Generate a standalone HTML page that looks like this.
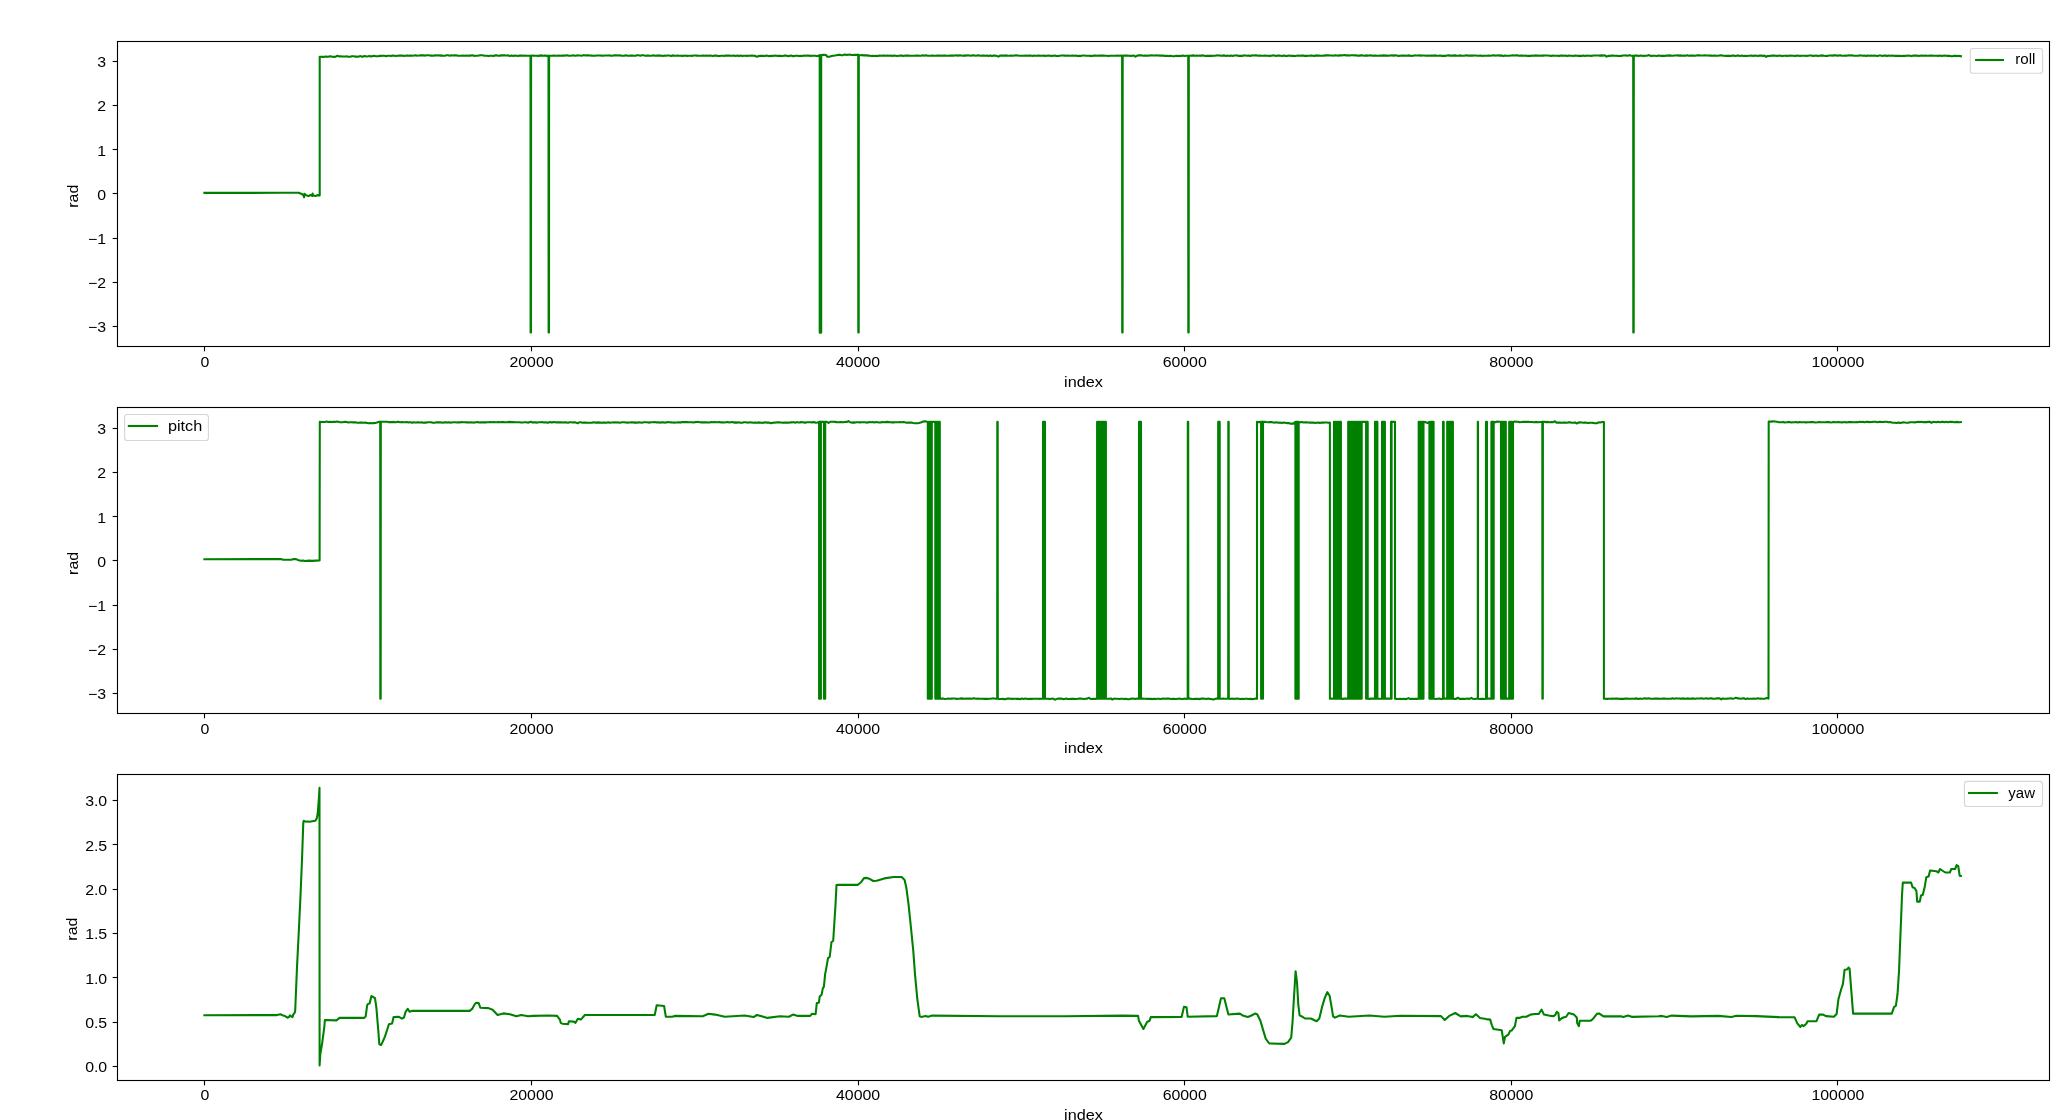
<!DOCTYPE html>
<html><head><meta charset="utf-8"><title>roll pitch yaw</title>
<style>
html,body{margin:0;padding:0;background:#fff;}
body{width:2071px;height:1120px;overflow:hidden;}
svg{display:block;}
.t{font-family:"Liberation Sans",sans-serif;font-size:13.89px;fill:#000;}
</style></head><body>
<svg width="2071" height="1120" viewBox="0 0 2071 1120">
<rect width="2071" height="1120" fill="#fff"/>
<clipPath id="c0"><rect x="117.50" y="41.50" width="1932.00" height="305.00"/></clipPath>
<clipPath id="c1"><rect x="117.50" y="407.50" width="1932.00" height="306.00"/></clipPath>
<clipPath id="c2"><rect x="117.50" y="774.50" width="1932.00" height="306.00"/></clipPath>
<g clip-path="url(#c0)" fill="none" stroke="#008000" stroke-width="2.08" stroke-linejoin="round" stroke-linecap="square">
<path d="M204.4 192.9 L240.0 192.9 L280.0 192.8 L298.8 192.8 L303.2 194.7 L304.1 197.3 L304.5 193.8 L306.6 195.5 L308.5 196.1 L310.5 195.0 L312.2 195.9 L312.6 193.6 L313.2 195.6 L315.5 196.0 L317.5 195.1 L319.7 195.4 L319.7 56.7 L321.3 56.7 L322.9 56.9 L324.5 56.7 L326.1 56.5 L327.8 56.7 L329.4 56.4 L331.0 56.4 L332.6 56.7 L334.2 56.9 L335.8 56.7 L337.4 55.7 L339.0 56.4 L340.6 56.2 L342.2 56.5 L343.9 56.5 L345.5 56.5 L347.1 56.4 L348.7 56.8 L350.3 56.7 L351.9 56.3 L353.5 56.3 L355.1 56.6 L356.7 56.6 L358.3 56.7 L359.9 56.1 L361.6 56.6 L363.2 56.6 L364.8 56.1 L366.4 56.5 L368.0 56.3 L369.6 56.0 L371.3 56.5 L372.9 56.0 L374.6 55.9 L376.2 56.3 L377.9 56.2 L379.5 55.9 L381.1 55.9 L382.8 55.8 L384.4 55.8 L386.1 56.3 L387.7 55.8 L389.4 55.8 L391.0 56.1 L392.6 55.6 L394.3 55.7 L395.9 56.0 L397.6 55.7 L399.2 55.5 L400.9 55.6 L402.5 55.6 L404.1 55.9 L405.8 55.7 L407.4 55.4 L409.1 55.8 L410.7 55.4 L412.4 55.7 L414.0 55.5 L415.6 55.3 L417.2 55.7 L418.9 55.5 L420.5 55.2 L422.1 55.4 L423.7 55.4 L425.4 55.6 L427.0 55.3 L428.6 55.3 L430.2 55.6 L431.8 55.6 L433.5 55.8 L435.1 55.2 L436.7 55.5 L438.3 55.3 L440.0 55.6 L441.6 55.4 L443.2 55.8 L444.8 55.7 L446.5 55.3 L448.1 55.3 L449.7 55.7 L451.3 55.3 L452.9 55.5 L454.6 55.4 L456.2 55.3 L457.8 55.7 L459.4 55.7 L461.1 55.7 L462.7 55.5 L464.3 55.8 L465.9 55.5 L467.5 55.8 L469.2 55.6 L470.8 55.6 L472.4 55.3 L474.0 55.9 L475.7 55.7 L477.3 55.7 L478.9 55.5 L480.5 55.3 L482.2 55.3 L483.8 55.6 L485.4 55.7 L487.0 55.7 L488.6 56.1 L490.3 55.7 L491.9 55.7 L493.5 55.9 L495.1 55.4 L496.8 55.4 L498.4 55.8 L500.0 55.6 L501.6 55.4 L503.3 55.4 L504.9 55.4 L506.6 55.5 L508.2 55.4 L509.9 55.9 L511.5 55.4 L513.2 55.9 L514.8 55.6 L516.5 55.8 L518.1 55.9 L519.8 55.6 L521.4 55.5 L523.1 55.8 L524.7 55.6 L526.4 55.7 L528.0 55.7 L530.5 55.7 L530.6 332.4 L531.0 332.4 L531.1 55.7 L532.9 55.6 L534.7 55.8 L536.4 55.8 L538.2 55.9 L540.0 55.6 L541.7 55.4 L543.4 55.7 L545.1 55.4 L546.8 55.9 L548.5 55.7 L548.6 332.4 L549.0 332.4 L549.1 55.7 L550.7 55.8 L552.4 55.7 L554.0 55.5 L555.7 55.7 L557.3 55.7 L559.0 55.5 L560.6 55.8 L562.2 55.6 L563.9 55.6 L565.5 55.5 L567.2 55.3 L568.8 55.7 L570.4 55.8 L572.1 55.5 L573.7 55.4 L575.4 55.8 L577.0 55.4 L578.7 55.5 L580.3 55.5 L581.9 55.8 L583.6 55.1 L585.2 55.5 L586.9 55.4 L588.5 55.4 L590.1 55.5 L591.8 55.6 L593.4 55.8 L595.1 55.8 L596.7 55.5 L598.4 55.5 L600.0 55.5 L601.6 55.6 L603.2 55.7 L604.8 55.5 L606.5 55.5 L608.1 55.5 L609.7 55.4 L611.3 55.8 L612.9 55.6 L614.5 55.3 L616.1 55.4 L617.7 55.5 L619.4 55.2 L621.0 55.6 L622.6 55.8 L624.2 55.8 L625.8 55.3 L627.4 55.8 L629.0 55.8 L630.6 55.5 L632.3 55.6 L633.9 55.8 L635.5 55.8 L637.1 55.3 L638.7 55.3 L640.3 55.7 L641.9 55.3 L643.5 55.3 L645.2 55.7 L646.8 55.6 L648.4 55.6 L650.0 55.7 L651.6 55.7 L653.2 55.3 L654.8 55.8 L656.5 55.6 L658.1 55.6 L659.7 55.4 L661.3 55.7 L662.9 55.9 L664.5 55.5 L666.1 55.7 L667.7 55.5 L669.4 55.5 L671.0 55.9 L672.6 55.4 L674.2 55.6 L675.8 55.7 L677.4 55.5 L679.0 55.8 L680.6 55.7 L682.3 55.9 L683.9 55.8 L685.5 55.6 L687.1 55.9 L688.7 55.7 L690.3 55.8 L691.9 55.9 L693.5 55.5 L695.2 55.5 L696.8 55.6 L698.4 55.7 L700.0 55.7 L701.6 55.8 L703.2 55.5 L704.9 55.7 L706.5 55.5 L708.1 55.8 L709.7 55.6 L711.4 55.7 L713.0 56.0 L714.6 55.5 L716.2 55.6 L717.8 56.0 L719.5 56.0 L721.1 55.8 L722.7 55.8 L724.3 55.9 L725.9 55.6 L727.6 55.6 L729.2 55.6 L730.8 55.8 L732.4 55.8 L734.1 55.6 L735.7 56.0 L737.3 55.6 L738.9 56.1 L740.5 55.6 L742.2 56.1 L743.8 55.7 L745.4 55.7 L747.0 55.9 L748.6 55.7 L750.3 55.8 L751.9 55.6 L753.5 55.7 L755.1 55.9 L756.8 56.7 L758.4 56.1 L760.0 55.9 L761.6 55.9 L763.2 55.9 L764.9 56.0 L766.5 55.6 L768.1 56.0 L769.8 56.1 L771.4 55.9 L773.0 55.9 L774.6 55.6 L776.2 55.8 L777.9 55.9 L779.5 55.7 L781.1 55.9 L782.8 56.0 L784.4 55.6 L786.0 55.6 L787.6 56.0 L789.2 56.1 L790.9 55.6 L792.5 56.1 L794.1 56.1 L795.8 55.8 L797.4 55.7 L799.0 56.1 L800.6 55.8 L802.2 56.0 L803.9 55.6 L805.5 55.8 L807.1 55.6 L808.8 55.6 L810.4 55.9 L812.0 55.7 L813.6 55.8 L815.2 55.8 L816.9 56.1 L818.5 55.8 L819.7 55.0 L819.7 332.6 L821.2 332.6 L821.2 55.0 L823.6 54.8 L826.0 55.0 L827.4 56.8 L829.2 56.7 L830.9 56.2 L832.7 55.7 L834.5 55.6 L836.2 55.3 L838.0 54.9 L839.7 54.7 L841.4 55.2 L843.0 55.1 L844.7 54.6 L846.4 54.9 L848.1 54.7 L849.8 54.6 L851.5 55.0 L853.2 55.0 L854.8 54.9 L856.5 54.8 L858.2 54.9 L858.3 332.4 L858.7 332.4 L858.8 54.9 L860.4 55.2 L862.0 54.9 L863.6 55.4 L865.2 55.2 L866.8 55.4 L868.4 55.6 L870.0 55.8 L871.6 56.1 L873.2 55.8 L874.8 56.0 L876.4 55.7 L878.0 56.0 L879.6 55.5 L881.2 55.7 L882.8 55.6 L884.4 55.5 L886.0 55.8 L887.6 55.6 L889.2 55.8 L890.8 55.5 L892.4 55.9 L894.0 55.5 L895.6 55.7 L897.2 56.0 L898.8 55.7 L900.4 55.6 L902.0 55.6 L903.6 55.9 L905.2 55.6 L906.8 55.6 L908.4 55.6 L910.0 55.7 L911.6 55.7 L913.2 55.7 L914.8 55.8 L916.4 55.5 L918.0 55.6 L919.6 55.7 L921.2 55.7 L922.8 55.3 L924.4 55.8 L926.0 55.3 L927.6 55.8 L929.2 55.7 L930.8 55.7 L932.4 55.4 L934.0 55.7 L935.6 55.7 L937.2 55.5 L938.8 55.6 L940.4 55.6 L942.0 55.7 L943.6 55.5 L945.2 55.6 L946.8 55.7 L948.4 55.7 L950.0 55.5 L951.6 55.6 L953.2 55.6 L954.8 55.5 L956.5 55.3 L958.1 55.8 L959.7 55.3 L961.3 55.5 L962.9 55.8 L964.5 55.4 L966.1 55.6 L967.7 55.3 L969.4 55.5 L971.0 55.8 L972.6 55.3 L974.2 55.4 L975.8 55.7 L977.4 55.4 L979.0 55.4 L980.6 55.7 L982.3 55.6 L983.9 55.6 L985.5 55.8 L987.1 55.5 L988.7 55.9 L990.3 55.4 L991.9 55.9 L993.5 55.5 L995.2 55.6 L996.8 55.9 L998.4 56.6 L1000.0 55.6 L1001.6 55.6 L1003.2 55.6 L1004.8 55.6 L1006.5 55.4 L1008.1 55.8 L1009.7 55.8 L1011.3 55.6 L1012.9 55.7 L1014.5 55.5 L1016.1 55.4 L1017.7 55.5 L1019.4 55.7 L1021.0 55.8 L1022.6 55.8 L1024.2 55.7 L1025.8 55.5 L1027.4 55.8 L1029.0 55.6 L1030.6 55.6 L1032.3 55.9 L1033.9 55.6 L1035.5 55.7 L1037.1 55.8 L1038.7 55.4 L1040.3 55.8 L1041.9 55.8 L1043.5 55.5 L1045.2 55.9 L1046.8 55.7 L1048.4 55.5 L1050.0 55.7 L1051.6 55.9 L1053.2 55.8 L1054.9 55.5 L1056.5 56.0 L1058.1 56.0 L1059.7 55.7 L1061.4 55.5 L1063.0 55.5 L1064.6 55.6 L1066.2 55.8 L1067.8 55.6 L1069.5 55.8 L1071.1 55.8 L1072.7 55.5 L1074.3 55.7 L1075.9 55.5 L1077.6 56.0 L1079.2 55.9 L1080.8 55.9 L1082.4 55.5 L1084.1 55.5 L1085.7 55.7 L1087.3 55.8 L1088.9 55.8 L1090.5 55.9 L1092.2 56.0 L1093.8 55.6 L1095.4 55.6 L1097.0 55.7 L1098.6 55.6 L1100.3 55.5 L1101.9 55.6 L1103.5 55.6 L1105.1 55.8 L1106.8 55.7 L1108.4 56.0 L1110.0 55.7 L1111.7 55.8 L1113.5 55.7 L1115.2 55.8 L1116.9 55.5 L1118.6 55.7 L1120.4 55.5 L1122.1 55.7 L1122.2 332.4 L1122.6 332.4 L1122.7 55.7 L1124.3 55.5 L1125.9 55.6 L1127.5 55.5 L1129.1 55.7 L1130.7 55.9 L1132.3 55.8 L1133.9 55.5 L1135.5 56.6 L1137.2 55.6 L1138.8 55.4 L1140.4 55.3 L1142.0 55.4 L1143.6 55.8 L1145.2 55.4 L1146.8 55.7 L1148.4 55.6 L1150.0 55.5 L1151.7 55.2 L1153.3 55.5 L1155.0 55.5 L1156.7 55.4 L1158.3 55.5 L1160.0 55.6 L1161.7 55.5 L1163.3 55.6 L1165.0 55.9 L1166.7 55.8 L1168.3 56.0 L1170.0 55.9 L1171.6 56.0 L1173.2 56.2 L1174.8 56.1 L1176.4 55.8 L1178.0 56.0 L1179.6 55.8 L1181.2 56.0 L1182.8 55.5 L1184.4 56.0 L1186.0 55.7 L1188.2 55.7 L1188.3 332.4 L1188.7 332.4 L1188.8 55.7 L1190.4 55.8 L1192.0 55.6 L1193.7 55.4 L1195.3 55.7 L1196.9 55.6 L1198.5 55.8 L1200.1 55.5 L1201.7 55.6 L1203.4 55.4 L1205.0 56.0 L1206.6 55.9 L1208.2 55.9 L1209.8 55.8 L1211.5 55.9 L1213.1 55.8 L1214.7 55.7 L1216.3 55.4 L1217.9 55.5 L1219.5 55.4 L1221.2 55.8 L1222.8 55.6 L1224.4 55.4 L1226.0 55.9 L1227.6 55.6 L1229.3 55.9 L1230.9 55.5 L1232.5 55.9 L1234.1 55.5 L1235.7 55.5 L1237.3 55.4 L1239.0 55.9 L1240.6 55.7 L1242.2 55.9 L1243.8 55.4 L1245.4 55.5 L1247.1 55.8 L1248.7 55.4 L1250.3 55.9 L1251.9 55.4 L1253.5 55.5 L1255.1 55.4 L1256.8 55.4 L1258.4 55.8 L1260.0 55.6 L1261.6 55.7 L1263.2 55.7 L1264.8 55.5 L1266.4 55.7 L1268.0 55.7 L1269.6 55.9 L1271.2 55.7 L1272.8 55.4 L1274.4 55.5 L1276.0 55.9 L1277.6 55.6 L1279.2 55.5 L1280.8 55.7 L1282.4 56.0 L1284.0 55.4 L1285.6 55.9 L1287.2 56.0 L1288.8 55.6 L1290.4 55.8 L1292.0 55.9 L1293.6 55.8 L1295.2 56.0 L1296.8 55.8 L1298.4 55.6 L1300.0 55.8 L1301.6 55.6 L1303.2 55.6 L1304.8 55.9 L1306.4 55.9 L1308.0 55.7 L1309.6 55.8 L1311.2 55.4 L1312.8 55.8 L1314.4 55.9 L1316.0 55.4 L1317.6 55.6 L1319.2 55.6 L1320.8 55.8 L1322.4 55.8 L1324.0 55.6 L1325.6 55.4 L1327.2 55.4 L1328.8 55.4 L1330.4 55.5 L1332.0 55.5 L1333.6 55.7 L1335.2 55.3 L1336.8 55.5 L1338.4 55.6 L1340.0 55.4 L1341.6 55.4 L1343.2 55.2 L1344.9 55.1 L1346.5 55.6 L1348.1 55.2 L1349.7 55.6 L1351.4 55.3 L1353.0 55.2 L1354.6 55.4 L1356.2 55.2 L1357.8 55.8 L1359.5 55.6 L1361.1 55.4 L1362.7 55.4 L1364.3 55.8 L1365.9 55.4 L1367.6 55.6 L1369.2 55.5 L1370.8 55.3 L1372.4 55.7 L1374.1 55.6 L1375.7 55.6 L1377.3 55.8 L1378.9 55.8 L1380.5 55.5 L1382.2 55.6 L1383.8 55.4 L1385.4 55.6 L1387.0 55.6 L1388.6 55.8 L1390.3 55.5 L1391.9 55.4 L1393.5 55.6 L1395.1 55.4 L1396.8 55.5 L1398.4 55.9 L1400.0 55.7 L1401.6 55.6 L1403.2 55.5 L1404.8 55.6 L1406.5 55.8 L1408.1 55.4 L1409.7 55.6 L1411.3 55.9 L1412.9 55.8 L1414.5 55.4 L1416.1 55.5 L1417.7 55.5 L1419.4 55.4 L1421.0 55.6 L1422.6 55.5 L1424.2 55.5 L1425.8 55.8 L1427.4 55.5 L1429.0 55.8 L1430.6 55.6 L1432.3 55.5 L1433.9 55.6 L1435.5 55.4 L1437.1 55.7 L1438.7 55.8 L1440.3 55.5 L1441.9 55.9 L1443.5 55.8 L1445.2 55.9 L1446.8 55.5 L1448.4 55.4 L1450.0 55.6 L1451.6 55.6 L1453.2 55.6 L1454.8 55.4 L1456.5 55.6 L1458.1 55.7 L1459.7 55.4 L1461.3 55.6 L1462.9 55.7 L1464.5 55.7 L1466.1 55.3 L1467.7 55.6 L1469.4 55.6 L1471.0 55.6 L1472.6 55.6 L1474.2 55.5 L1475.8 55.5 L1477.4 55.7 L1479.0 55.7 L1480.6 55.6 L1482.3 55.9 L1483.9 55.7 L1485.5 55.8 L1487.1 55.7 L1488.7 55.6 L1490.3 55.8 L1491.9 55.5 L1493.5 55.3 L1495.2 55.6 L1496.8 55.5 L1498.4 55.4 L1500.0 55.6 L1501.6 55.4 L1503.2 56.1 L1504.8 55.6 L1506.4 55.8 L1508.0 55.8 L1509.6 55.7 L1511.2 55.5 L1512.8 55.3 L1514.4 55.5 L1516.0 55.4 L1517.6 55.4 L1519.2 55.8 L1520.8 55.5 L1522.4 55.6 L1524.0 55.7 L1525.6 55.6 L1527.2 55.9 L1528.8 55.9 L1530.4 55.9 L1532.0 55.6 L1533.6 55.7 L1535.2 55.4 L1536.8 55.6 L1538.4 55.6 L1540.0 55.8 L1541.6 55.6 L1543.2 55.6 L1544.8 55.5 L1546.4 55.5 L1548.0 55.5 L1549.6 55.8 L1551.2 55.9 L1552.8 55.5 L1554.4 55.8 L1556.0 55.8 L1557.6 55.7 L1559.2 55.9 L1560.8 55.6 L1562.4 55.6 L1564.0 55.7 L1565.6 55.5 L1567.2 56.1 L1568.8 55.6 L1570.4 55.8 L1572.0 55.7 L1573.6 56.0 L1575.2 55.6 L1576.8 55.8 L1578.4 55.9 L1580.0 55.8 L1581.7 55.9 L1583.3 55.6 L1585.0 55.9 L1586.7 55.6 L1588.3 55.7 L1590.0 55.7 L1591.7 55.9 L1593.3 55.5 L1595.0 55.5 L1596.7 55.5 L1598.3 55.5 L1600.0 55.6 L1601.6 55.4 L1603.3 55.6 L1604.9 55.3 L1606.5 56.6 L1608.2 55.9 L1609.8 55.9 L1611.4 55.6 L1613.1 55.6 L1614.7 55.7 L1616.3 55.7 L1617.9 55.9 L1619.6 56.0 L1621.2 55.9 L1622.8 55.5 L1624.5 55.5 L1626.1 55.4 L1627.7 55.8 L1629.4 55.1 L1631.0 55.7 L1633.2 55.7 L1633.3 332.4 L1633.7 332.4 L1633.8 55.7 L1635.4 55.6 L1637.1 55.6 L1638.7 56.0 L1640.3 55.6 L1642.0 55.8 L1643.6 55.9 L1645.3 55.7 L1646.9 55.7 L1648.5 55.1 L1650.2 55.7 L1651.8 55.9 L1653.5 55.7 L1655.1 55.7 L1656.7 56.0 L1658.4 55.6 L1660.0 55.8 L1661.6 55.9 L1663.2 55.9 L1664.8 55.9 L1666.4 55.5 L1668.0 55.6 L1669.6 55.4 L1671.2 55.6 L1672.8 55.7 L1674.4 55.5 L1676.0 55.5 L1677.6 55.4 L1679.2 55.6 L1680.8 55.4 L1682.4 55.7 L1684.0 55.4 L1685.6 55.8 L1687.2 55.3 L1688.8 55.8 L1690.4 55.6 L1692.0 55.6 L1693.6 55.5 L1695.2 55.7 L1696.8 55.4 L1698.4 55.2 L1700.0 55.4 L1701.6 55.5 L1703.2 55.5 L1704.8 55.4 L1706.5 55.5 L1708.1 55.5 L1709.7 55.6 L1711.3 55.5 L1712.9 55.8 L1714.5 55.5 L1716.1 55.7 L1717.7 55.7 L1719.4 55.5 L1721.0 55.3 L1722.6 55.6 L1724.2 55.8 L1725.8 55.9 L1727.4 55.8 L1729.0 55.9 L1730.6 55.9 L1732.3 55.5 L1733.9 55.6 L1735.5 55.9 L1737.1 55.6 L1738.7 55.5 L1740.3 55.9 L1741.9 55.6 L1743.5 56.0 L1745.2 55.8 L1746.8 56.0 L1748.4 55.7 L1750.0 55.8 L1751.6 55.5 L1753.2 56.0 L1754.8 55.6 L1756.5 55.7 L1758.1 55.9 L1759.7 55.6 L1761.3 55.6 L1762.9 56.1 L1764.5 55.6 L1766.1 56.8 L1767.7 56.0 L1769.4 55.9 L1771.0 55.7 L1772.6 55.6 L1774.2 55.6 L1775.8 55.7 L1777.4 55.9 L1779.0 55.6 L1780.6 55.7 L1782.3 56.1 L1783.9 55.7 L1785.5 55.7 L1787.1 55.9 L1788.7 55.7 L1790.3 55.6 L1791.9 55.8 L1793.5 55.7 L1795.2 56.1 L1796.8 55.6 L1798.4 55.7 L1800.0 55.9 L1801.6 55.7 L1803.2 55.7 L1804.8 55.8 L1806.5 55.9 L1808.1 55.7 L1809.7 55.5 L1811.3 55.5 L1812.9 55.9 L1814.5 55.7 L1816.1 55.5 L1817.7 55.9 L1819.4 55.8 L1821.0 55.6 L1822.6 55.4 L1824.2 55.8 L1825.8 56.0 L1827.4 55.9 L1829.0 55.5 L1830.6 55.5 L1832.3 55.6 L1833.9 55.4 L1835.5 55.3 L1837.1 55.6 L1838.7 55.6 L1840.3 55.3 L1841.9 55.7 L1843.5 55.8 L1845.2 55.6 L1846.8 55.7 L1848.4 55.3 L1850.0 55.5 L1851.6 55.2 L1853.2 55.6 L1854.8 55.8 L1856.5 55.8 L1858.1 55.8 L1859.7 55.4 L1861.3 55.5 L1862.9 55.8 L1864.5 55.6 L1866.1 55.9 L1867.7 55.4 L1869.4 55.7 L1871.0 55.5 L1872.6 55.7 L1874.2 55.6 L1875.8 55.8 L1877.4 56.0 L1879.0 55.5 L1880.6 55.5 L1882.3 55.9 L1883.9 55.6 L1885.5 55.6 L1887.1 56.1 L1888.7 55.6 L1890.3 55.7 L1891.9 55.6 L1893.5 55.8 L1895.2 55.9 L1896.8 55.9 L1898.4 55.9 L1900.0 55.9 L1901.7 56.0 L1903.3 55.7 L1905.0 55.9 L1906.7 55.8 L1908.3 55.6 L1910.0 55.8 L1911.7 56.1 L1913.3 55.5 L1915.0 55.6 L1916.7 55.6 L1918.3 55.9 L1920.0 55.8 L1921.7 55.5 L1923.3 55.7 L1925.0 55.6 L1926.7 55.8 L1928.3 55.7 L1930.0 55.6 L1931.6 55.5 L1933.3 55.7 L1934.9 55.8 L1936.5 55.8 L1938.1 55.9 L1939.8 55.6 L1941.4 55.9 L1943.0 55.7 L1944.6 55.6 L1946.3 55.7 L1947.9 55.9 L1949.5 55.8 L1951.1 56.2 L1952.8 56.1 L1954.4 55.8 L1956.0 55.9 L1957.6 56.0 L1959.3 55.9 L1960.9 56.2"/>
</g>
<g clip-path="url(#c1)" fill="none" stroke="#008000" stroke-width="2.08" stroke-linejoin="round" stroke-linecap="square">
<path d="M204.4 559.2 L281.0 559.1 L283.0 559.7 L292.0 559.6 L294.0 559.0 L296.0 559.1 L298.0 560.0 L300.5 560.7 L303.0 560.5 L305.0 561.0 L309.0 560.6 L312.0 560.9 L319.6 560.4 L319.8 421.9 L321.5 422.0 L323.2 422.0 L324.9 422.0 L326.6 421.6 L328.3 422.1 L330.0 421.8 L331.7 422.1 L333.3 421.8 L335.0 421.9 L336.7 421.6 L338.3 421.8 L340.0 422.2 L341.7 422.2 L343.3 422.1 L345.0 421.8 L346.7 422.0 L348.3 422.5 L350.0 422.2 L351.7 422.2 L353.4 422.4 L355.1 422.3 L356.8 422.6 L358.5 422.8 L360.2 422.6 L361.8 422.5 L363.5 422.7 L365.2 422.6 L366.9 422.9 L368.6 423.2 L370.3 423.0 L372.0 423.2 L373.6 423.1 L375.3 423.0 L376.9 422.6 L378.6 421.9 L380.2 421.9 L380.3 698.8 L380.7 698.8 L380.8 421.9 L382.4 421.8 L384.1 421.7 L385.7 421.8 L387.3 421.8 L389.0 422.3 L390.6 422.0 L392.2 422.1 L393.9 421.9 L395.5 422.3 L397.1 421.9 L398.8 421.9 L400.4 422.3 L402.0 422.1 L403.7 422.3 L405.3 422.2 L406.9 422.0 L408.6 422.4 L410.2 422.1 L411.8 422.7 L413.5 422.3 L415.1 422.5 L416.7 422.4 L418.4 422.2 L420.0 422.5 L421.6 422.2 L423.2 422.7 L424.8 422.6 L426.4 422.6 L428.0 422.2 L429.6 422.3 L431.2 422.3 L432.8 422.8 L434.4 422.7 L436.0 422.4 L437.6 422.4 L439.2 422.4 L440.8 422.3 L442.4 422.7 L444.0 422.4 L445.6 422.2 L447.2 422.6 L448.8 422.3 L450.4 422.6 L452.0 422.5 L453.6 422.3 L455.2 422.2 L456.8 422.5 L458.4 422.2 L460.0 422.4 L461.6 422.1 L463.2 422.2 L464.8 422.3 L466.4 422.4 L468.0 422.2 L469.6 422.5 L471.2 422.2 L472.8 422.5 L474.4 422.6 L476.0 422.3 L477.6 422.1 L479.2 422.5 L480.8 422.4 L482.4 422.4 L484.0 422.4 L485.6 422.4 L487.2 422.3 L488.8 422.3 L490.4 422.0 L492.0 422.2 L493.6 422.1 L495.2 422.3 L496.8 422.2 L498.4 421.9 L500.0 422.2 L501.6 422.1 L503.2 422.0 L504.9 422.2 L506.5 422.3 L508.1 422.1 L509.7 421.9 L511.4 422.1 L513.0 422.0 L514.6 422.2 L516.2 422.3 L517.8 422.3 L519.5 422.3 L521.1 422.5 L522.7 422.5 L524.3 422.2 L525.9 422.3 L527.6 422.6 L529.2 422.4 L530.8 421.7 L532.4 422.6 L534.1 422.2 L535.7 422.4 L537.3 422.6 L538.9 422.3 L540.5 422.3 L542.2 422.1 L543.8 422.5 L545.4 422.2 L547.0 422.6 L548.6 422.6 L550.3 422.1 L551.9 422.6 L553.5 422.1 L555.1 422.3 L556.8 422.4 L558.4 422.4 L560.0 422.4 L561.6 422.4 L563.2 422.5 L564.8 422.4 L566.4 422.4 L568.0 422.7 L569.6 422.2 L571.2 422.3 L572.8 422.5 L574.4 422.2 L576.0 422.6 L577.6 423.3 L579.2 422.3 L580.8 422.3 L582.4 422.7 L584.0 422.6 L585.6 422.6 L587.2 422.7 L588.8 422.7 L590.4 422.8 L592.0 422.7 L593.6 422.3 L595.2 422.6 L596.8 422.6 L598.4 422.4 L600.0 422.6 L601.6 422.8 L603.2 422.6 L604.8 422.6 L606.5 422.7 L608.1 422.3 L609.7 422.8 L611.3 422.5 L612.9 422.5 L614.5 422.3 L616.1 422.6 L617.7 422.3 L619.4 422.8 L621.0 422.5 L622.6 422.3 L624.2 422.2 L625.8 422.5 L627.4 422.6 L629.0 422.5 L630.6 422.4 L632.3 422.2 L633.9 422.6 L635.5 422.4 L637.1 422.7 L638.7 422.3 L640.3 422.5 L641.9 422.7 L643.5 422.3 L645.2 422.3 L646.8 422.3 L648.4 422.6 L650.0 422.4 L651.6 422.2 L653.2 422.3 L654.8 422.1 L656.5 422.4 L658.1 422.3 L659.7 422.6 L661.3 422.4 L662.9 422.3 L664.5 422.6 L666.1 422.5 L667.7 422.1 L669.4 422.3 L671.0 422.4 L672.6 422.5 L674.2 422.6 L675.8 422.5 L677.4 422.4 L679.0 422.2 L680.6 422.6 L682.3 422.0 L683.9 422.1 L685.5 422.0 L687.1 422.1 L688.7 422.2 L690.3 422.3 L691.9 422.2 L693.5 422.5 L695.2 422.1 L696.8 422.0 L698.4 421.9 L700.0 422.2 L701.6 422.4 L703.2 422.3 L704.9 422.4 L706.5 422.3 L708.1 422.5 L709.7 422.4 L711.4 422.0 L713.0 422.3 L714.6 422.1 L716.2 422.2 L717.8 422.2 L719.5 422.0 L721.1 422.4 L722.7 422.4 L724.3 422.5 L725.9 422.2 L727.6 422.1 L729.2 422.4 L730.8 422.2 L732.4 422.1 L734.1 422.6 L735.7 422.4 L737.3 422.6 L738.9 422.2 L740.5 422.7 L742.2 422.7 L743.8 422.3 L745.4 422.3 L747.0 422.6 L748.6 422.5 L750.3 422.3 L751.9 422.5 L753.5 422.8 L755.1 422.4 L756.8 422.7 L758.4 422.4 L760.0 422.6 L761.6 422.8 L763.2 422.9 L764.8 422.3 L766.4 422.6 L768.0 422.5 L769.6 422.7 L771.2 423.3 L772.8 422.8 L774.4 422.6 L776.0 422.5 L777.6 422.4 L779.2 422.3 L780.8 422.5 L782.4 422.7 L784.0 422.6 L785.6 422.5 L787.2 422.6 L788.8 422.7 L790.4 422.2 L792.0 422.4 L793.6 422.1 L795.2 422.7 L796.8 422.1 L798.4 422.5 L800.0 422.4 L801.8 422.1 L803.5 422.4 L805.2 422.6 L807.0 422.3 L808.8 422.2 L810.5 422.3 L812.2 422.4 L814.0 422.1 L815.8 422.7 L817.5 422.4 L819.1 421.9 L819.1 698.8 L819.7 698.8 L819.7 421.9 L820.3 421.9 L820.3 698.8 L820.9 698.8 L820.9 421.9 L824.0 421.9 L824.0 698.8 L825.2 698.8 L825.2 421.9 L826.9 421.9 L828.5 422.9 L830.2 421.8 L831.8 421.8 L833.5 421.8 L835.1 421.9 L836.8 422.1 L838.5 422.2 L840.1 422.1 L841.8 422.1 L843.4 422.2 L845.1 421.9 L846.7 422.0 L848.4 421.1 L850.1 422.2 L851.7 422.6 L853.4 422.4 L855.0 422.6 L856.7 422.2 L858.3 422.2 L860.0 422.4 L861.6 422.3 L863.2 422.2 L864.8 422.2 L866.4 422.6 L868.0 422.4 L869.6 422.1 L871.2 422.3 L872.8 422.1 L874.4 422.4 L876.0 422.1 L877.6 422.2 L879.2 422.5 L880.8 422.4 L882.4 421.9 L884.0 422.3 L885.6 422.1 L887.2 421.9 L888.8 422.1 L890.4 422.3 L892.0 422.4 L893.6 422.4 L895.2 422.2 L896.8 422.3 L898.4 422.2 L900.0 422.1 L901.6 422.2 L903.3 422.0 L904.9 422.3 L906.5 422.7 L908.2 422.5 L909.8 422.6 L911.5 422.5 L913.1 423.0 L914.7 423.2 L916.4 423.3 L918.0 423.2 L919.8 422.8 L921.5 422.2 L923.2 421.5 L925.0 421.2 L927.8 421.9 L927.8 698.8 L929.1 698.8 L929.1 421.9 L930.5 421.9 L930.5 698.8 L931.8 698.8 L931.8 421.9 L933.5 421.9 L935.3 421.9 L935.3 698.8 L936.4 698.8 L936.4 421.9 L937.5 421.9 L937.5 698.8 L938.7 698.8 L938.7 421.9 L939.8 421.9 L939.8 698.8 L941.5 698.5 L943.2 698.6 L944.8 699.0 L946.5 698.8 L948.2 698.5 L949.9 698.7 L951.6 698.6 L953.3 698.5 L955.0 698.5 L956.6 698.9 L958.3 698.7 L960.0 698.6 L961.6 698.4 L963.2 698.6 L964.9 698.8 L966.5 698.6 L968.1 698.6 L969.7 698.5 L971.3 698.7 L972.9 698.4 L974.6 698.4 L976.2 698.7 L977.8 698.5 L979.4 698.7 L981.0 698.8 L982.6 698.7 L984.3 698.9 L985.9 698.9 L987.5 698.9 L989.1 698.8 L990.7 698.7 L992.3 698.5 L994.0 698.4 L995.6 698.8 L997.2 698.7 L997.2 698.8 L997.3 421.9 L997.7 421.9 L997.8 698.8 L999.4 699.0 L1001.0 699.0 L1002.6 698.9 L1004.3 699.1 L1005.9 699.1 L1007.5 698.6 L1009.1 698.6 L1010.7 698.8 L1012.3 698.9 L1013.9 698.7 L1015.6 698.7 L1017.2 698.9 L1018.8 698.9 L1020.4 699.1 L1022.0 698.5 L1023.6 698.9 L1025.2 698.6 L1026.9 698.7 L1028.5 699.1 L1030.1 698.7 L1031.7 698.9 L1033.3 698.8 L1034.9 698.7 L1036.5 698.8 L1038.2 698.8 L1039.8 698.9 L1041.4 698.7 L1043.0 698.8 L1043.0 421.9 L1043.7 421.9 L1043.7 698.8 L1044.3 698.8 L1044.3 421.9 L1045.0 421.9 L1045.0 698.8 L1046.6 698.8 L1048.3 698.8 L1049.9 699.1 L1051.5 698.7 L1053.1 698.5 L1054.8 699.7 L1056.4 699.1 L1058.0 698.5 L1059.7 698.6 L1061.3 698.5 L1062.9 699.1 L1064.5 699.0 L1066.2 698.5 L1067.8 699.0 L1069.4 699.0 L1071.0 698.9 L1072.7 698.9 L1074.3 698.8 L1075.9 699.0 L1077.6 698.8 L1079.2 698.5 L1080.8 698.6 L1082.4 698.7 L1084.1 699.0 L1085.7 698.7 L1087.3 698.6 L1089.0 697.7 L1090.6 699.0 L1092.2 698.9 L1093.8 698.7 L1095.5 698.9 L1097.1 698.8 L1097.1 421.9 L1098.4 421.9 L1098.4 698.8 L1099.6 698.8 L1099.6 421.9 L1100.9 421.9 L1100.9 698.8 L1102.1 698.8 L1102.1 421.9 L1103.4 421.9 L1103.4 698.8 L1104.6 698.8 L1104.6 421.9 L1105.9 421.9 L1105.9 698.8 L1107.6 698.8 L1109.2 698.8 L1110.9 698.5 L1112.5 699.5 L1114.2 698.6 L1115.8 698.7 L1117.5 698.7 L1119.1 699.0 L1120.8 698.7 L1122.5 698.7 L1124.1 699.0 L1125.8 698.8 L1127.4 699.1 L1129.1 699.2 L1130.7 698.8 L1132.4 698.5 L1134.0 698.8 L1135.7 698.9 L1137.3 698.5 L1139.0 698.8 L1139.0 421.9 L1139.7 421.9 L1139.7 698.8 L1140.3 698.8 L1140.3 421.9 L1141.0 421.9 L1141.0 698.8 L1142.6 698.5 L1144.2 698.7 L1145.8 698.7 L1147.4 698.9 L1149.1 698.7 L1150.7 698.9 L1152.3 699.1 L1153.9 698.7 L1155.5 699.1 L1157.1 698.8 L1158.7 698.8 L1160.3 699.1 L1161.9 698.8 L1163.5 698.6 L1165.2 698.8 L1166.8 698.6 L1168.4 698.5 L1170.0 698.7 L1171.6 699.1 L1173.2 698.7 L1174.8 698.9 L1176.4 699.0 L1178.0 698.7 L1179.6 698.6 L1181.3 699.0 L1182.9 699.0 L1184.5 698.6 L1186.1 698.9 L1187.7 698.8 L1187.8 421.9 L1188.2 421.9 L1188.3 698.8 L1190.0 698.5 L1191.6 699.0 L1193.3 699.0 L1194.9 698.9 L1196.6 698.9 L1198.3 698.9 L1199.9 699.1 L1201.6 698.5 L1203.2 698.6 L1204.9 698.8 L1206.6 699.0 L1208.2 698.5 L1209.9 699.0 L1211.6 699.0 L1213.2 699.6 L1214.9 699.0 L1216.5 698.6 L1218.2 698.8 L1218.2 421.9 L1219.7 421.9 L1219.7 698.8 L1221.4 698.7 L1223.1 698.6 L1224.8 698.7 L1226.5 698.8 L1228.2 698.8 L1228.3 421.9 L1228.7 421.9 L1228.8 698.8 L1230.5 698.9 L1232.1 698.6 L1233.8 698.9 L1235.4 698.8 L1237.1 698.6 L1238.8 698.8 L1240.4 699.0 L1242.1 698.9 L1243.7 699.0 L1245.4 698.7 L1247.0 698.7 L1248.7 699.0 L1250.4 698.9 L1252.0 699.1 L1253.7 699.0 L1255.3 698.6 L1257.0 698.8 L1257.0 421.8 L1259.0 422.1 L1261.1 421.9 L1261.1 698.8 L1261.7 698.8 L1261.7 421.9 L1262.4 421.9 L1262.4 698.8 L1263.0 698.8 L1263.0 421.9 L1264.7 421.7 L1266.4 422.0 L1268.1 422.2 L1269.8 422.1 L1271.5 422.0 L1273.2 422.5 L1274.9 422.6 L1276.6 422.3 L1278.3 422.8 L1280.0 422.6 L1281.7 423.0 L1283.4 422.6 L1285.1 422.8 L1286.8 423.1 L1288.4 423.0 L1290.1 423.6 L1291.8 423.5 L1293.5 423.6 L1295.4 421.9 L1295.4 698.8 L1296.5 698.8 L1296.5 421.9 L1297.6 421.9 L1297.6 698.8 L1298.7 698.8 L1298.7 421.9 L1300.3 422.2 L1301.9 422.1 L1303.5 422.5 L1305.2 422.3 L1306.8 422.4 L1308.4 422.5 L1310.0 422.6 L1311.7 422.6 L1313.3 422.5 L1315.0 422.9 L1316.6 422.8 L1318.3 422.4 L1320.0 422.9 L1321.6 422.6 L1323.3 422.6 L1324.9 422.5 L1326.6 422.5 L1328.2 422.8 L1329.9 422.6 L1329.9 698.8 L1332.0 698.6 L1334.0 698.8 L1334.0 421.9 L1335.4 421.9 L1335.4 698.8 L1336.8 698.8 L1336.8 421.9 L1338.1 421.9 L1338.1 698.8 L1339.5 698.8 L1339.5 421.9 L1340.9 421.9 L1340.9 698.8 L1342.7 698.9 L1344.6 698.6 L1346.4 698.6 L1348.2 698.8 L1348.2 421.9 L1349.5 421.9 L1349.5 698.8 L1350.9 698.8 L1350.9 421.9 L1352.2 421.9 L1352.2 698.8 L1353.6 698.8 L1353.6 421.9 L1355.0 421.9 L1355.0 698.8 L1356.3 698.8 L1356.3 421.9 L1357.7 421.9 L1357.7 698.8 L1359.0 698.8 L1359.0 421.9 L1360.4 421.9 L1360.4 698.8 L1361.7 698.8 L1361.7 421.9 L1363.9 421.7 L1366.1 421.9 L1366.1 698.8 L1366.9 698.8 L1366.9 421.9 L1367.7 421.9 L1367.7 698.8 L1369.5 698.9 L1371.3 698.6 L1373.2 698.6 L1375.0 698.8 L1375.0 421.9 L1375.8 421.9 L1375.8 698.8 L1376.6 698.8 L1376.6 421.9 L1377.4 421.9 L1377.4 698.8 L1379.7 698.7 L1382.0 698.8 L1382.0 421.9 L1383.0 421.9 L1383.0 698.8 L1383.9 698.8 L1383.9 421.9 L1384.9 421.9 L1384.9 698.8 L1386.9 698.5 L1389.0 698.6 L1391.0 698.8 L1391.0 421.9 L1391.3 421.9 L1391.3 698.8 L1391.6 698.8 L1391.6 421.9 L1393.3 421.8 L1395.0 421.9 L1395.0 698.8 L1396.7 698.9 L1398.4 699.0 L1400.1 698.7 L1401.8 699.0 L1403.5 698.8 L1405.2 699.1 L1406.8 698.9 L1408.5 698.1 L1410.2 699.0 L1411.9 698.8 L1413.6 698.9 L1415.3 698.9 L1417.0 698.9 L1418.7 698.8 L1418.7 421.9 L1419.9 421.9 L1419.9 698.8 L1421.1 698.8 L1421.1 421.9 L1422.3 421.9 L1422.3 698.8 L1423.5 698.8 L1423.5 421.9 L1425.5 422.1 L1427.4 423.0 L1429.4 421.9 L1429.4 698.8 L1430.5 698.8 L1430.5 421.9 L1431.5 421.9 L1431.5 698.8 L1432.5 698.8 L1432.5 421.9 L1433.6 421.9 L1433.6 698.8 L1435.5 699.0 L1437.4 698.8 L1439.2 698.6 L1441.1 699.1 L1443.0 698.8 L1443.0 421.9 L1443.7 421.9 L1443.7 698.8 L1445.5 698.6 L1447.2 698.8 L1447.2 421.9 L1448.3 421.9 L1448.3 698.8 L1449.5 698.8 L1449.5 421.9 L1450.6 421.9 L1450.6 698.8 L1451.8 698.8 L1451.8 421.9 L1452.9 421.9 L1452.9 698.8 L1454.6 698.9 L1456.2 698.9 L1457.9 697.7 L1459.5 698.9 L1461.2 698.8 L1462.9 698.9 L1464.5 698.9 L1466.2 698.8 L1467.8 698.5 L1469.5 699.0 L1471.2 697.9 L1472.8 698.8 L1474.5 699.0 L1476.1 698.8 L1477.8 698.8 L1477.8 421.9 L1478.0 421.9 L1478.0 698.8 L1479.6 699.0 L1481.2 698.9 L1482.8 698.9 L1484.4 699.0 L1486.0 698.8 L1486.0 421.9 L1487.0 421.9 L1487.0 698.8 L1489.2 698.5 L1491.4 698.8 L1491.4 421.9 L1492.6 421.9 L1492.6 698.8 L1493.7 698.8 L1493.7 421.9 L1495.5 422.2 L1497.3 421.6 L1499.2 421.7 L1501.0 421.9 L1501.0 698.8 L1502.2 698.8 L1502.2 421.9 L1503.4 421.9 L1503.4 698.8 L1504.6 698.8 L1504.6 421.9 L1505.8 421.9 L1505.8 698.8 L1507.5 698.6 L1509.2 698.8 L1509.2 421.9 L1510.2 421.9 L1510.2 698.8 L1511.1 698.8 L1511.1 421.9 L1512.0 421.9 L1512.0 698.8 L1513.0 698.8 L1513.0 421.9 L1514.7 421.6 L1516.4 421.8 L1518.1 421.8 L1519.9 422.2 L1521.6 422.0 L1523.3 421.8 L1525.0 421.9 L1526.7 421.9 L1528.5 421.9 L1530.2 422.0 L1531.9 422.0 L1533.7 422.2 L1535.4 422.1 L1537.1 422.1 L1538.8 422.2 L1540.6 422.0 L1542.3 422.0 L1542.3 421.9 L1542.4 698.8 L1542.8 698.8 L1542.9 421.9 L1544.6 421.9 L1546.3 422.1 L1548.0 421.9 L1549.7 422.3 L1551.4 422.0 L1553.2 422.2 L1554.9 421.2 L1556.6 422.6 L1558.3 422.6 L1560.0 422.5 L1561.7 422.7 L1563.3 422.6 L1565.0 422.5 L1566.7 422.8 L1568.3 422.4 L1570.0 422.3 L1571.7 422.7 L1573.3 422.7 L1575.0 422.4 L1576.7 423.5 L1578.3 422.6 L1580.0 422.4 L1581.7 422.5 L1583.3 422.7 L1585.0 422.4 L1586.7 422.7 L1588.3 423.1 L1590.0 422.8 L1591.7 422.8 L1593.3 422.9 L1595.0 423.2 L1596.8 423.2 L1598.6 422.4 L1600.3 422.5 L1602.1 422.0 L1603.9 422.0 L1603.9 698.8 L1605.5 698.8 L1607.2 698.9 L1608.8 698.7 L1610.5 698.7 L1612.1 698.6 L1613.8 698.7 L1615.4 698.5 L1617.1 698.6 L1618.7 698.7 L1620.4 698.9 L1622.0 698.8 L1623.7 698.9 L1625.3 698.5 L1627.0 698.6 L1628.6 698.7 L1630.2 698.7 L1631.9 698.7 L1633.5 698.8 L1635.2 698.6 L1636.8 698.4 L1638.5 698.9 L1640.1 698.6 L1641.8 698.7 L1643.4 698.6 L1645.1 698.3 L1646.7 698.8 L1648.4 698.3 L1650.0 698.6 L1651.6 698.7 L1653.2 698.7 L1654.8 698.6 L1656.5 698.5 L1658.1 698.6 L1659.7 698.8 L1661.3 698.8 L1662.9 698.6 L1664.5 698.6 L1666.1 698.8 L1667.7 698.7 L1669.4 698.8 L1671.0 698.8 L1672.6 698.3 L1674.2 698.7 L1675.8 698.4 L1677.4 698.5 L1679.0 698.5 L1680.6 698.6 L1682.3 698.6 L1683.9 698.4 L1685.5 698.7 L1687.1 698.4 L1688.7 698.6 L1690.3 698.8 L1691.9 698.4 L1693.5 698.6 L1695.2 698.8 L1696.8 698.5 L1698.4 698.5 L1700.0 698.5 L1701.6 698.3 L1703.3 698.7 L1704.9 698.5 L1706.5 698.3 L1708.2 698.8 L1709.8 698.4 L1711.4 698.3 L1713.0 698.7 L1714.7 698.7 L1716.3 698.4 L1717.9 698.4 L1719.6 698.3 L1721.2 699.4 L1722.8 698.4 L1724.5 698.7 L1726.1 698.8 L1727.7 698.6 L1729.4 698.5 L1731.0 698.2 L1732.6 698.7 L1734.2 698.4 L1735.9 697.7 L1737.5 698.4 L1739.1 698.4 L1740.8 698.8 L1742.4 698.4 L1744.0 698.3 L1745.7 699.1 L1747.3 698.4 L1748.9 698.7 L1750.6 698.8 L1752.2 698.7 L1753.8 698.6 L1755.5 698.8 L1757.1 698.4 L1758.7 698.5 L1760.3 698.6 L1762.0 698.8 L1763.6 698.7 L1765.2 698.6 L1766.9 698.0 L1768.5 698.6 L1768.7 421.5 L1770.8 421.6 L1772.9 421.4 L1775.0 421.5 L1776.7 421.7 L1778.3 422.1 L1780.0 422.3 L1781.6 422.3 L1783.3 422.1 L1784.9 422.5 L1786.5 422.3 L1788.1 422.0 L1789.8 422.1 L1791.4 422.5 L1793.0 422.2 L1794.7 422.3 L1796.3 422.1 L1797.9 422.5 L1799.5 422.1 L1801.2 422.2 L1802.8 422.3 L1804.4 422.2 L1806.0 422.4 L1807.7 422.3 L1809.3 422.2 L1810.9 422.1 L1812.6 422.1 L1814.2 422.3 L1815.8 422.5 L1817.4 422.3 L1819.1 422.0 L1820.7 422.3 L1822.3 422.3 L1824.0 422.2 L1825.6 422.3 L1827.2 422.1 L1828.8 422.1 L1830.5 422.5 L1832.1 422.3 L1833.7 421.9 L1835.3 422.2 L1837.0 422.3 L1838.6 421.9 L1840.2 422.2 L1841.9 422.4 L1843.5 422.3 L1845.1 422.1 L1846.7 422.4 L1848.4 422.0 L1850.0 422.1 L1851.6 422.1 L1853.2 422.2 L1854.8 422.2 L1856.4 422.1 L1858.0 422.2 L1859.6 421.8 L1861.2 422.0 L1862.8 421.8 L1864.4 422.3 L1866.0 421.9 L1867.6 421.9 L1869.2 422.1 L1870.8 422.0 L1872.4 421.9 L1874.0 421.7 L1875.6 421.8 L1877.2 422.2 L1878.8 421.9 L1880.4 421.9 L1882.0 422.0 L1883.6 422.0 L1885.2 421.8 L1886.8 421.8 L1888.4 422.2 L1890.0 422.0 L1891.7 422.5 L1893.3 422.8 L1895.0 422.8 L1896.7 423.0 L1898.3 422.4 L1900.0 422.9 L1901.7 422.7 L1903.3 422.2 L1905.0 422.5 L1906.7 422.7 L1908.3 422.7 L1910.0 422.2 L1911.7 422.2 L1913.3 422.2 L1915.0 422.4 L1916.7 422.0 L1918.3 421.9 L1920.0 422.0 L1921.6 421.8 L1923.3 422.3 L1924.9 422.0 L1926.5 422.1 L1928.2 421.9 L1929.8 421.7 L1931.5 422.8 L1933.1 421.9 L1934.7 422.0 L1936.4 422.3 L1938.0 421.8 L1939.6 422.3 L1941.3 421.9 L1942.9 421.8 L1944.5 422.3 L1946.2 421.8 L1947.8 422.3 L1949.4 421.9 L1951.1 421.8 L1952.7 421.9 L1954.4 422.3 L1956.0 422.1 L1957.6 421.9 L1959.3 422.3 L1960.9 422.1"/>
</g>
<g clip-path="url(#c2)" fill="none" stroke="#008000" stroke-width="2.08" stroke-linejoin="round" stroke-linecap="square">
<path d="M204.4 1015.2 L277.1 1015.1 L280.4 1014.3 L283.2 1015.6 L285.0 1016.1 L287.5 1017.7 L288.9 1017.1 L290.0 1015.4 L291.1 1016.4 L292.5 1017.1 L293.2 1014.6 L294.6 1012.9 L295.2 1010.5 L297.0 967.3 L298.8 931.5 L300.5 895.6 L302.0 859.8 L303.3 822.5 L303.8 820.8 L304.5 821.4 L309.6 821.8 L315.2 820.8 L316.8 818.4 L317.7 813.5 L318.6 802.3 L319.2 793.4 L319.5 787.8 L319.6 1065.4 L320.3 1054.3 L322.1 1043.6 L324.3 1027.1 L324.9 1020.0 L336.4 1020.4 L339.6 1017.9 L364.3 1017.9 L365.7 1016.4 L367.1 1005.7 L367.9 1003.9 L369.6 1003.6 L371.4 996.1 L372.9 996.8 L375.0 998.2 L376.4 1007.9 L378.6 1034.3 L379.3 1044.3 L381.1 1045.0 L382.9 1041.4 L385.0 1036.4 L387.1 1030.0 L388.9 1024.3 L392.1 1023.6 L393.6 1017.1 L398.6 1016.7 L401.9 1018.7 L404.0 1017.5 L405.6 1011.8 L407.7 1008.9 L409.7 1011.8 L411.8 1010.9 L469.6 1010.9 L472.1 1008.9 L474.6 1004.4 L476.2 1002.7 L478.7 1003.1 L480.3 1007.7 L488.5 1008.1 L492.6 1009.7 L497.6 1015.0 L503.3 1013.4 L509.9 1014.2 L516.4 1016.3 L521.4 1015.0 L527.9 1016.3 L532.9 1015.9 L549.3 1015.5 L557.1 1015.9 L559.9 1019.6 L560.7 1022.8 L562.3 1023.7 L568.1 1024.1 L568.9 1021.2 L573.8 1021.6 L575.5 1022.8 L577.9 1018.7 L580.8 1019.6 L584.9 1015.0 L654.7 1015.0 L656.7 1005.2 L664.1 1006.0 L665.8 1016.7 L672.3 1016.7 L674.8 1015.9 L702.7 1016.3 L708.5 1013.8 L715.0 1014.6 L724.9 1016.7 L744.6 1015.5 L753.6 1017.1 L756.9 1015.0 L767.5 1017.9 L779.9 1016.3 L788.9 1016.7 L793.0 1014.6 L797.9 1015.9 L810.2 1015.9 L811.9 1013.8 L815.6 1014.2 L816.8 1003.1 L818.9 1002.7 L819.7 996.6 L821.6 994.8 L822.8 988.4 L823.9 986.6 L825.1 974.4 L826.2 968.6 L828.0 958.2 L829.7 957.0 L831.5 942.0 L833.2 940.8 L834.4 922.2 L835.5 904.8 L836.5 885.1 L837.9 884.9 L857.6 884.9 L861.1 882.2 L864.0 878.1 L866.9 877.9 L869.2 878.7 L873.2 881.0 L876.7 880.8 L884.3 878.4 L893.6 877.0 L901.7 877.0 L904.6 879.9 L906.3 887.4 L908.6 904.8 L911.0 928.0 L913.3 951.2 L915.0 974.4 L917.3 998.8 L919.7 1016.3 L921.3 1016.9 L925.5 1015.9 L928.3 1016.7 L932.0 1015.6 L1000.0 1016.2 L1065.0 1016.3 L1122.5 1015.6 L1138.1 1015.9 L1138.9 1020.8 L1143.4 1029.0 L1147.1 1022.0 L1149.6 1020.8 L1150.8 1017.1 L1181.6 1016.9 L1184.0 1006.8 L1186.5 1007.2 L1187.7 1016.7 L1216.9 1016.1 L1221.0 998.2 L1224.3 998.2 L1228.4 1014.5 L1239.8 1013.6 L1243.4 1015.8 L1247.9 1017.0 L1251.4 1015.5 L1255.0 1013.6 L1257.2 1014.3 L1260.4 1020.7 L1263.0 1029.6 L1265.7 1038.6 L1269.3 1043.5 L1284.5 1043.9 L1288.0 1042.1 L1291.2 1037.7 L1292.5 1022.5 L1293.8 1000.2 L1295.6 971.2 L1297.0 982.3 L1298.3 1004.6 L1299.6 1015.4 L1302.3 1016.7 L1305.0 1018.5 L1310.8 1018.5 L1316.6 1021.2 L1319.3 1018.5 L1322.0 1007.3 L1324.6 998.4 L1327.3 992.1 L1329.6 995.7 L1330.9 1002.9 L1333.1 1016.3 L1334.9 1017.6 L1339.8 1015.5 L1348.8 1016.7 L1369.3 1015.5 L1384.5 1016.7 L1400.0 1015.8 L1441.0 1016.1 L1444.7 1020.0 L1449.2 1015.9 L1455.3 1013.0 L1460.7 1016.4 L1467.2 1015.9 L1472.6 1017.1 L1475.9 1014.2 L1480.0 1017.9 L1486.1 1019.1 L1490.2 1019.6 L1491.9 1025.3 L1493.5 1029.0 L1501.7 1030.2 L1503.8 1043.4 L1505.0 1036.8 L1508.3 1034.7 L1510.0 1031.1 L1511.6 1030.6 L1514.9 1026.1 L1516.5 1017.9 L1519.8 1017.9 L1522.3 1016.7 L1526.4 1016.7 L1530.5 1014.6 L1534.6 1014.0 L1538.7 1014.0 L1541.6 1009.7 L1544.0 1014.6 L1551.0 1015.9 L1553.5 1016.3 L1555.5 1014.6 L1556.7 1011.8 L1558.4 1013.0 L1559.2 1020.4 L1561.7 1018.3 L1563.3 1017.5 L1566.2 1016.7 L1568.6 1013.0 L1574.0 1014.6 L1576.8 1017.5 L1577.2 1023.3 L1578.9 1026.1 L1579.7 1020.8 L1590.4 1020.8 L1592.8 1019.1 L1596.9 1013.8 L1599.0 1013.4 L1603.5 1016.4 L1621.6 1016.4 L1623.2 1017.1 L1628.1 1015.5 L1632.2 1016.9 L1658.5 1016.3 L1661.8 1015.9 L1666.7 1016.9 L1671.7 1015.6 L1691.4 1016.4 L1718.5 1015.9 L1731.3 1017.0 L1736.6 1015.8 L1756.3 1016.1 L1778.6 1017.1 L1794.6 1017.3 L1797.3 1023.4 L1800.4 1027.0 L1801.8 1025.0 L1803.6 1026.1 L1806.3 1023.8 L1807.6 1021.2 L1816.5 1021.2 L1819.2 1014.5 L1823.2 1014.6 L1825.9 1016.1 L1833.9 1016.7 L1836.6 1014.0 L1838.4 999.3 L1841.1 989.5 L1842.9 984.1 L1844.6 969.8 L1846.9 969.4 L1848.7 967.6 L1849.6 968.9 L1853.1 1013.6 L1891.8 1013.6 L1894.0 1007.1 L1895.9 1005.6 L1897.5 994.2 L1899.0 971.4 L1900.5 933.5 L1902.0 895.5 L1902.8 882.6 L1911.1 882.6 L1912.6 887.2 L1914.6 887.9 L1916.4 891.0 L1917.2 901.6 L1919.8 901.6 L1921.0 895.5 L1922.8 894.8 L1924.8 886.4 L1926.3 877.3 L1928.6 876.6 L1930.1 870.5 L1936.2 871.2 L1938.4 872.5 L1940.0 869.0 L1942.2 870.5 L1945.3 872.5 L1949.8 872.5 L1951.3 869.0 L1955.1 869.0 L1956.6 865.2 L1958.2 865.9 L1959.7 875.8 L1960.9 876.1"/>
</g>
<rect x="117.50" y="41.50" width="1932.00" height="305.00" fill="none" stroke="#000" stroke-width="1.11"/>
<line x1="204.50" y1="346.50" x2="204.50" y2="351.36" stroke="#000" stroke-width="1.11"/>

<line x1="531.50" y1="346.50" x2="531.50" y2="351.36" stroke="#000" stroke-width="1.11"/>

<line x1="858.50" y1="346.50" x2="858.50" y2="351.36" stroke="#000" stroke-width="1.11"/>

<line x1="1184.50" y1="346.50" x2="1184.50" y2="351.36" stroke="#000" stroke-width="1.11"/>

<line x1="1511.50" y1="346.50" x2="1511.50" y2="351.36" stroke="#000" stroke-width="1.11"/>

<line x1="1837.50" y1="346.50" x2="1837.50" y2="351.36" stroke="#000" stroke-width="1.11"/>

<line x1="112.64" y1="61.50" x2="117.50" y2="61.50" stroke="#000" stroke-width="1.11"/>

<line x1="112.64" y1="105.50" x2="117.50" y2="105.50" stroke="#000" stroke-width="1.11"/>

<line x1="112.64" y1="149.50" x2="117.50" y2="149.50" stroke="#000" stroke-width="1.11"/>

<line x1="112.64" y1="193.50" x2="117.50" y2="193.50" stroke="#000" stroke-width="1.11"/>

<line x1="112.64" y1="238.50" x2="117.50" y2="238.50" stroke="#000" stroke-width="1.11"/>

<line x1="112.64" y1="282.50" x2="117.50" y2="282.50" stroke="#000" stroke-width="1.11"/>

<line x1="112.64" y1="326.50" x2="117.50" y2="326.50" stroke="#000" stroke-width="1.11"/>



<rect x="117.50" y="407.50" width="1932.00" height="306.00" fill="none" stroke="#000" stroke-width="1.11"/>
<line x1="204.50" y1="713.50" x2="204.50" y2="718.36" stroke="#000" stroke-width="1.11"/>

<line x1="531.50" y1="713.50" x2="531.50" y2="718.36" stroke="#000" stroke-width="1.11"/>

<line x1="858.50" y1="713.50" x2="858.50" y2="718.36" stroke="#000" stroke-width="1.11"/>

<line x1="1184.50" y1="713.50" x2="1184.50" y2="718.36" stroke="#000" stroke-width="1.11"/>

<line x1="1511.50" y1="713.50" x2="1511.50" y2="718.36" stroke="#000" stroke-width="1.11"/>

<line x1="1837.50" y1="713.50" x2="1837.50" y2="718.36" stroke="#000" stroke-width="1.11"/>

<line x1="112.64" y1="428.50" x2="117.50" y2="428.50" stroke="#000" stroke-width="1.11"/>

<line x1="112.64" y1="472.50" x2="117.50" y2="472.50" stroke="#000" stroke-width="1.11"/>

<line x1="112.64" y1="516.50" x2="117.50" y2="516.50" stroke="#000" stroke-width="1.11"/>

<line x1="112.64" y1="560.50" x2="117.50" y2="560.50" stroke="#000" stroke-width="1.11"/>

<line x1="112.64" y1="605.50" x2="117.50" y2="605.50" stroke="#000" stroke-width="1.11"/>

<line x1="112.64" y1="649.50" x2="117.50" y2="649.50" stroke="#000" stroke-width="1.11"/>

<line x1="112.64" y1="693.50" x2="117.50" y2="693.50" stroke="#000" stroke-width="1.11"/>



<rect x="117.50" y="774.50" width="1932.00" height="306.00" fill="none" stroke="#000" stroke-width="1.11"/>
<line x1="204.50" y1="1080.50" x2="204.50" y2="1085.36" stroke="#000" stroke-width="1.11"/>

<line x1="531.50" y1="1080.50" x2="531.50" y2="1085.36" stroke="#000" stroke-width="1.11"/>

<line x1="858.50" y1="1080.50" x2="858.50" y2="1085.36" stroke="#000" stroke-width="1.11"/>

<line x1="1184.50" y1="1080.50" x2="1184.50" y2="1085.36" stroke="#000" stroke-width="1.11"/>

<line x1="1511.50" y1="1080.50" x2="1511.50" y2="1085.36" stroke="#000" stroke-width="1.11"/>

<line x1="1837.50" y1="1080.50" x2="1837.50" y2="1085.36" stroke="#000" stroke-width="1.11"/>

<line x1="112.64" y1="1066.50" x2="117.50" y2="1066.50" stroke="#000" stroke-width="1.11"/>

<line x1="112.64" y1="1022.50" x2="117.50" y2="1022.50" stroke="#000" stroke-width="1.11"/>

<line x1="112.64" y1="977.50" x2="117.50" y2="977.50" stroke="#000" stroke-width="1.11"/>

<line x1="112.64" y1="933.50" x2="117.50" y2="933.50" stroke="#000" stroke-width="1.11"/>

<line x1="112.64" y1="889.50" x2="117.50" y2="889.50" stroke="#000" stroke-width="1.11"/>

<line x1="112.64" y1="844.50" x2="117.50" y2="844.50" stroke="#000" stroke-width="1.11"/>

<line x1="112.64" y1="800.50" x2="117.50" y2="800.50" stroke="#000" stroke-width="1.11"/>



<rect x="1970.30" y="48.50" width="72.30" height="24.80" rx="2.8" ry="2.8" fill="#fff" fill-opacity="0.8" stroke="#d6d6d6" stroke-width="1.1"/>
<line x1="1975.10" y1="60.00" x2="2004.00" y2="60.00" stroke="#008000" stroke-width="2.08"/>

<rect x="124.60" y="414.50" width="83.80" height="26.00" rx="2.8" ry="2.8" fill="#fff" fill-opacity="0.8" stroke="#d6d6d6" stroke-width="1.1"/>
<line x1="127.80" y1="426.00" x2="158.10" y2="426.00" stroke="#008000" stroke-width="2.08"/>

<rect x="1964.40" y="781.40" width="78.10" height="25.10" rx="2.8" ry="2.8" fill="#fff" fill-opacity="0.8" stroke="#d6d6d6" stroke-width="1.1"/>
<line x1="1968.00" y1="793.00" x2="1997.90" y2="793.00" stroke="#008000" stroke-width="2.08"/>

<filter id="gs" x="0" y="0" width="2071" height="1120" filterUnits="userSpaceOnUse"><feColorMatrix type="saturate" values="0"/></filter>
<g filter="url(#gs)">
<text class="t" text-anchor="middle" transform="translate(204.90 366.80) scale(1.144 1.040)">0</text>
<text class="t" text-anchor="middle" transform="translate(531.50 366.80) scale(1.144 1.040)">20000</text>
<text class="t" text-anchor="middle" transform="translate(858.10 366.80) scale(1.144 1.040)">40000</text>
<text class="t" text-anchor="middle" transform="translate(1184.70 366.80) scale(1.144 1.040)">60000</text>
<text class="t" text-anchor="middle" transform="translate(1511.30 366.80) scale(1.144 1.040)">80000</text>
<text class="t" text-anchor="middle" transform="translate(1837.90 366.80) scale(1.144 1.040)">100000</text>
<text class="t" text-anchor="end" transform="translate(106.00 67.19) scale(1.144 1.040)">3</text>
<text class="t" text-anchor="end" transform="translate(106.00 111.36) scale(1.144 1.040)">2</text>
<text class="t" text-anchor="end" transform="translate(106.00 155.53) scale(1.144 1.040)">1</text>
<text class="t" text-anchor="end" transform="translate(106.00 199.70) scale(1.144 1.040)">0</text>
<text class="t" text-anchor="end" transform="translate(106.00 243.87) scale(1.144 1.040)">−1</text>
<text class="t" text-anchor="end" transform="translate(106.00 288.04) scale(1.144 1.040)">−2</text>
<text class="t" text-anchor="end" transform="translate(106.00 332.21) scale(1.144 1.040)">−3</text>
<text class="t" text-anchor="middle" transform="translate(1083.50 387.00) scale(1.170 1.040)">index</text>
<text class="t" text-anchor="middle" transform="translate(77.90 196.20) rotate(-90) scale(1.150 1.040)">rad</text>
<text class="t" text-anchor="middle" transform="translate(204.90 733.80) scale(1.144 1.040)">0</text>
<text class="t" text-anchor="middle" transform="translate(531.50 733.80) scale(1.144 1.040)">20000</text>
<text class="t" text-anchor="middle" transform="translate(858.10 733.80) scale(1.144 1.040)">40000</text>
<text class="t" text-anchor="middle" transform="translate(1184.70 733.80) scale(1.144 1.040)">60000</text>
<text class="t" text-anchor="middle" transform="translate(1511.30 733.80) scale(1.144 1.040)">80000</text>
<text class="t" text-anchor="middle" transform="translate(1837.90 733.80) scale(1.144 1.040)">100000</text>
<text class="t" text-anchor="end" transform="translate(106.00 434.19) scale(1.144 1.040)">3</text>
<text class="t" text-anchor="end" transform="translate(106.00 478.36) scale(1.144 1.040)">2</text>
<text class="t" text-anchor="end" transform="translate(106.00 522.53) scale(1.144 1.040)">1</text>
<text class="t" text-anchor="end" transform="translate(106.00 566.70) scale(1.144 1.040)">0</text>
<text class="t" text-anchor="end" transform="translate(106.00 610.87) scale(1.144 1.040)">−1</text>
<text class="t" text-anchor="end" transform="translate(106.00 655.04) scale(1.144 1.040)">−2</text>
<text class="t" text-anchor="end" transform="translate(106.00 699.21) scale(1.144 1.040)">−3</text>
<text class="t" text-anchor="middle" transform="translate(1083.50 753.30) scale(1.170 1.040)">index</text>
<text class="t" text-anchor="middle" transform="translate(77.90 563.40) rotate(-90) scale(1.150 1.040)">rad</text>
<text class="t" text-anchor="middle" transform="translate(204.90 1100.00) scale(1.144 1.040)">0</text>
<text class="t" text-anchor="middle" transform="translate(531.50 1100.00) scale(1.144 1.040)">20000</text>
<text class="t" text-anchor="middle" transform="translate(858.10 1100.00) scale(1.144 1.040)">40000</text>
<text class="t" text-anchor="middle" transform="translate(1184.70 1100.00) scale(1.144 1.040)">60000</text>
<text class="t" text-anchor="middle" transform="translate(1511.30 1100.00) scale(1.144 1.040)">80000</text>
<text class="t" text-anchor="middle" transform="translate(1837.90 1100.00) scale(1.144 1.040)">100000</text>
<text class="t" text-anchor="end" transform="translate(107.20 1072.20) scale(1.144 1.040)">0.0</text>
<text class="t" text-anchor="end" transform="translate(107.20 1027.88) scale(1.144 1.040)">0.5</text>
<text class="t" text-anchor="end" transform="translate(107.20 983.57) scale(1.144 1.040)">1.0</text>
<text class="t" text-anchor="end" transform="translate(107.20 939.26) scale(1.144 1.040)">1.5</text>
<text class="t" text-anchor="end" transform="translate(107.20 894.94) scale(1.144 1.040)">2.0</text>
<text class="t" text-anchor="end" transform="translate(107.20 850.62) scale(1.144 1.040)">2.5</text>
<text class="t" text-anchor="end" transform="translate(107.20 806.31) scale(1.144 1.040)">3.0</text>
<text class="t" text-anchor="middle" transform="translate(1083.50 1120.00) scale(1.170 1.040)">index</text>
<text class="t" text-anchor="middle" transform="translate(77.00 929.10) rotate(-90) scale(1.150 1.040)">rad</text>
<text class="t" text-anchor="start" transform="translate(2015.20 63.90) scale(1.090 1.040)">roll</text>
<text class="t" text-anchor="start" transform="translate(167.90 431.00) scale(1.170 1.040)">pitch</text>
<text class="t" text-anchor="start" transform="translate(2008.30 797.90) scale(1.080 1.040)">yaw</text>
</g>
</svg>
</body></html>
